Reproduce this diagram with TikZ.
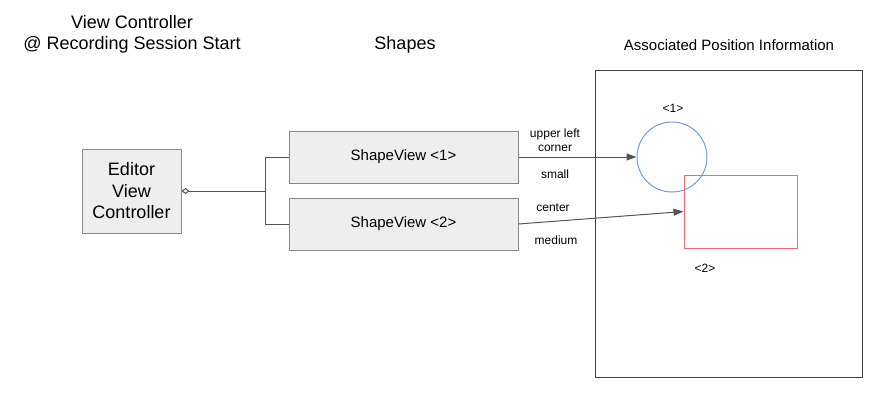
\documentclass[tikz,border=0pt]{standalone}
\usepackage{fontspec}
\setmainfont{Liberation Sans}
\usetikzlibrary{arrows.meta,positioning}
\definecolor{boxfill}{HTML}{EEEEEE}
\definecolor{boxline}{HTML}{888888}
\definecolor{wire}{HTML}{555555}
\definecolor{shapeblue}{HTML}{6C9EE6}
\definecolor{shapered}{HTML}{F26B6B}
\tikzset{
  classbox/.style={draw=boxline,fill=boxfill,line width=1pt,align=center,inner sep=0pt},
  lbl/.style={font=\fontsize{12}{14}\selectfont,align=center,inner sep=0pt},
  head/.style={font=\fontsize{18}{21}\selectfont,align=center,inner sep=0pt},
  wirearrow/.style={draw=wire,line width=1pt,-{Triangle[length=10pt,width=7pt]}}
}
\begin{document}
\begin{tikzpicture}[x=1pt,y=-1pt]
      \useasboundingbox (0,0) rectangle (891,418);
      % headings
      \node[head] (vchead) at (132,34) {View Controller\\@ Recording Session Start};
      \node[head] (shhead) at (405,45) {Shapes};
      \node[head,font=\fontsize{15}{18}\selectfont] (pihead) at (729,45) {Associated Position Information};
      % boxes
      \draw[black!75,line width=1pt] (595,70) rectangle (862,377);
      \node[classbox,minimum width=99pt,minimum height=84pt,font=\fontsize{18}{21.5}\selectfont]
        (evc) at (131.5,191) {Editor\\View\\Controller};
      \node[classbox,minimum width=229pt,minimum height=52pt,font=\fontsize{15}{18}\selectfont]
        (sv1) at (403.5,157) {ShapeView <1>};
      \node[classbox,minimum width=229pt,minimum height=52pt,font=\fontsize{15}{18}\selectfont]
        (sv2) at (403.5,224) {ShapeView <2>};
      % shapes
      \node[draw=shapeblue,line width=1pt,circle,minimum size=70pt,inner sep=0pt] (circ) at (672,157) {};
      \node[draw=shapered,line width=1pt,minimum width=113pt,minimum height=73pt,inner sep=0pt] (rect) at (740.5,211.5) {};
      \node[lbl] (c1) at (673,108) {<1>};
      \node[lbl] (r2) at (705,268) {<2>};
      % connectors
      \coordinate (fork) at (265,191);
      \draw[draw=wire,line width=1pt,{Diamond[open,length=8pt,width=6pt]}-] (evc.east) -- (fork);
      \draw[draw=wire,line width=1pt] (fork) |- (sv1.west);
      \draw[draw=wire,line width=1pt] (fork) |- (sv2.west);
      \draw[wirearrow] (sv1.east) -- (circ.west);
      \draw[wirearrow] (sv2.east) -- (rect.west);
      % connector labels
      \node[lbl] (ulc) at (555,140) {upper left\\corner};
      \node[lbl] (sm) at (555,174) {small};
      \node[lbl] (ce) at (553,208) {center};
      \node[lbl] (me) at (556,240) {medium};
    \end{tikzpicture}
\end{document}
